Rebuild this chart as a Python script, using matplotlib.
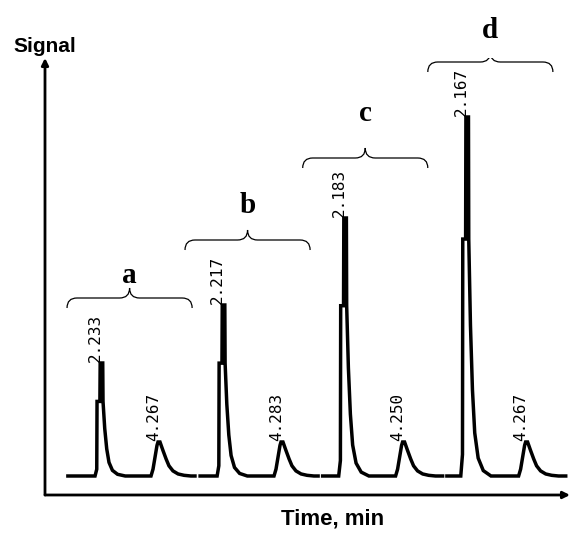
import numpy as np
import matplotlib
matplotlib.use('Agg')
from matplotlib import pyplot as plt
from matplotlib.path import Path
from matplotlib.patches import PathPatch

# four injections, each cut from its own chromatogram
run_names = ['a', 'b', 'c', 'd']
rt_first = [2.233, 2.217, 2.183, 2.167]
rt_second = [4.267, 4.283, 4.250, 4.267]
height_first = [113, 171, 258, 359]
height_second = [34, 34, 34, 34]
run_start = [1.07, 1.41, 1.41, 1.47]
run_end = [5.53, 5.55, 5.62, 5.64]

# peak outlines (minutes from apex, fraction of apex height)
big_dt = [-0.21, -0.15, -0.14, -0.04, -0.03, 0.06, 0.07, 0.13, 0.2, 0.28, 0.4, 0.58, 0.85]
big_frac = [0.0, 0.06, 0.66, 0.66, 1.0, 1.0, 0.66, 0.42, 0.24, 0.12, 0.05, 0.015, 0.0]
small_dt = [-0.28, -0.21, -0.14, -0.07, -0.035, 0.035, 0.14, 0.25, 0.35, 0.49, 0.67, 0.88, 1.12]
small_frac = [0.0, 0.2, 0.55, 0.9, 1.0, 1.0, 0.75, 0.5, 0.3, 0.15, 0.06, 0.02, 0.0]

# layout
run_shift = 4.3
brace_left = [1.04, 0.88, 0.71, 0.80]
brace_width = 4.39
brace_level = [178, 236, 318, 414]
letter_gap = [15, 27, 37, 24]

fig = plt.figure(figsize=(5.71, 5.36), dpi=100)
ax = fig.add_axes([45 / 571, 41 / 536, 525 / 571, 437 / 536])
ax.set_xlim(0.267, 18.69)
ax.set_ylim(-19, 418)
ax.axis('off')


def run_trace(i):
    xs = [run_start[i]]
    ys = [0.0]
    for dt, fr in zip(big_dt, big_frac):
        xs.append(rt_first[i] + dt)
        ys.append(height_first[i] * fr)
    for dt, fr in zip(small_dt, small_frac):
        xs.append(rt_second[i] + dt)
        ys.append(height_second[i] * fr)
    xs.append(run_end[i])
    ys.append(0.0)
    return np.array(xs) + i * run_shift, np.array(ys)


def brace(x0, w, y, dx=0.35, dy=10):
    xm = x0 + w / 2
    verts = [(x0, y - dy), (x0, y), (x0 + dx, y),
             (xm - dx, y), (xm, y), (xm, y + dy),
             (xm, y), (xm + dx, y),
             (x0 + w - dx, y), (x0 + w, y), (x0 + w, y - dy)]
    codes = [Path.MOVETO, Path.CURVE3, Path.CURVE3,
             Path.LINETO, Path.CURVE3, Path.CURVE3,
             Path.CURVE3, Path.CURVE3,
             Path.LINETO, Path.CURVE3, Path.CURVE3]
    return PathPatch(Path(verts, codes), fill=False, lw=0.9, color='black')


for i, name in enumerate(run_names):
    xs, ys = run_trace(i)
    ax.plot(xs, ys, color='black', lw=2.5, solid_joinstyle='miter')

    for rt, h in ((rt_first[i], height_first[i]), (rt_second[i], height_second[i])):
        ax.annotate(f'{rt:.3f}', xy=(rt + i * run_shift, h), xytext=(1.5, 0.5),
                    textcoords='offset points', rotation=90, ha='right', va='bottom',
                    family='DejaVu Sans Mono', fontsize=11.5)

    bx = brace_left[i] + i * run_shift
    ax.add_patch(brace(bx, brace_width, brace_level[i]))
    ax.text(bx + brace_width / 2, brace_level[i] + letter_gap[i], name, ha='center',
            va='baseline', family='Liberation Serif', fontweight='bold', fontsize=21)

# axes drawn as arrows
arrow = dict(arrowstyle='-|>', lw=2, color='black', mutation_scale=10, shrinkA=0, shrinkB=0)
ax.annotate('', xy=(0, 1), xytext=(0, 0), xycoords='axes fraction', arrowprops=arrow)
ax.annotate('', xy=(1, 0), xytext=(0, 0), xycoords='axes fraction', arrowprops=arrow)

ax.text(0, 1.014, 'Signal', transform=ax.transAxes, ha='center', va='baseline',
        family='Liberation Sans', fontweight='bold', fontsize=15)
ax.text(0.547, -0.068, 'Time, min', transform=ax.transAxes, ha='center', va='baseline',
        family='Liberation Sans', fontweight='bold', fontsize=16)

fig.savefig('out.png', dpi=100)
